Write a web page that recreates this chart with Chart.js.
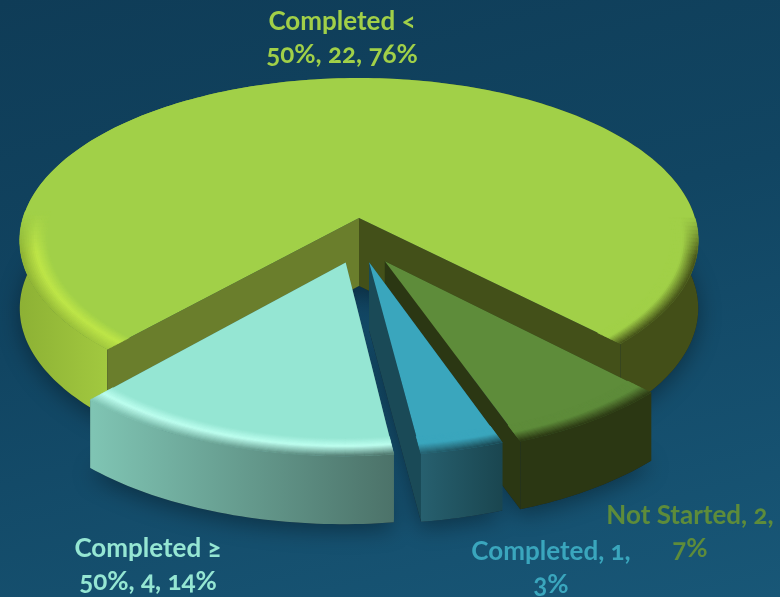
<!DOCTYPE html>
<html>
<head>
    <title>Task status</title>
    <script src="https://cdn.jsdelivr.net/npm/chart.js"></script>
    <style>
        html, body { margin: 0; padding: 0; width: 780px; height: 597px; overflow: hidden; }
        body { position: relative; background: linear-gradient(165deg, #0f3c57 0%, #114562 45%, #185777 100%); }
        #chartBox { position: absolute; left: 0; top: 0; width: 780px; height: 597px; }
        .etiqueta {
            position: absolute; text-align: center; font: bold 26px/33px Lato, sans-serif;
            font-variant-numeric: oldstyle-nums; white-space: normal;
        }
    </style>
</head>
<body>
    <div id="chartBox"><canvas id="pie"></canvas></div>

    <script>
        // data
        var categories = ['Completed < 50%', 'Not Started', 'Completed', 'Completed \u2265 50%'];
        var counts = [22, 2, 1, 4];
        var percents = ['76%', '7%', '3%', '14%'];
        var explode = [0, 80, 71, 73];

        var topColors = ['#a1d048', '#5e8c3a', '#3aa6bd', '#95e6d3'];
        var labelColors = ['#a1d048', '#5e8c3a', '#3aa6bd', '#95e6d3'];
        // wall colours along x: x, colour, x, colour...
        var wallColors = [
            [16, '#8cb034', 112, '#a3ca40', 600, '#434f18'],
            [515, '#2b3713', 650, '#2b3713'],
            [420, '#27606f', 502, '#1a4650'],
            [93, '#7fc4b3', 398, '#4b7168']
        ];
        var faceColors = [['#6a7e2c', '#435019'], ['#2b3713', '#2b3713'], ['#1a4a57', '#1a4a57'], ['#4b7168', '#4b7168']];
        // highlight on the bevel, left half and right half of the pie
        var rimHigh = ['#bfe648', '#a1d048', '#5e8c3a', '#5e8c3a', '#3aa6bd', '#3aa6bd', '#beffF0', '#beffF0'];
        // label boxes: left, top, width
        var labelBoxes = [[252, 4, 180], [602, 498, 176], [466, 534, 170], [63, 531, 170]];

        // perspective of the pie
        var cx = 359, cy = 218, R = 336, Rs = 159.3, k = 0.138, H = 68;
        var shrink = 0.97, offX = 0.45, rimWidth = 0.08;

        function project(u, v, h) {
            var w = 1 - k * v;
            return { x: cx + R * u / w, y: cy + Rs * v / w + H * h };
        }

        function hexRgb(c) {
            return [parseInt(c.substr(1, 2), 16), parseInt(c.substr(3, 2), 16), parseInt(c.substr(5, 2), 16)];
        }

        function mixRgb(a, b, t) {
            return [a[0] + (b[0] - a[0]) * t, a[1] + (b[1] - a[1]) * t, a[2] + (b[2] - a[2]) * t];
        }

        function cssRgb(c) {
            return 'rgb(' + Math.round(c[0]) + ',' + Math.round(c[1]) + ',' + Math.round(c[2]) + ')';
        }

        function wallAt(i, x) {
            var c = wallColors[i], j;
            if (x <= c[0]) return hexRgb(c[1]);
            for (j = 2; j < c.length; j += 2) {
                if (x <= c[j]) return mixRgb(hexRgb(c[j - 1]), hexRgb(c[j + 1]), (x - c[j - 2]) / (c[j] - c[j - 2]));
            }
            return hexRgb(c[c.length - 1]);
        }

        // geometry of one slice, taken from the arc element of Chart.js
        function sliceGeom(arc, offset) {
            var p = arc.getProps(['startAngle', 'endAngle', 'outerRadius']);
            var mid = (p.startAngle + p.endAngle) / 2;
            var o = offset / p.outerRadius;
            return {
                a0: p.startAngle,
                a1: p.endAngle,
                ox: o * Math.cos(mid) * offX,
                oy: o * Math.sin(mid),
                r: offset > 0 ? shrink : 1
            };
        }

        function rimPoint(g, a, rho, h) {
            return project(g.ox + Math.cos(a) * rho * g.r, g.oy + Math.sin(a) * rho * g.r, h);
        }

        function traceTop(ctx, g, h) {
            var n = Math.ceil((g.a1 - g.a0) / 0.02), i, p;
            p = project(g.ox, g.oy, h);
            ctx.beginPath();
            ctx.moveTo(p.x, p.y);
            for (i = 0; i <= n; i++) {
                p = rimPoint(g, g.a0 + (g.a1 - g.a0) * i / n, 1, h);
                ctx.lineTo(p.x, p.y);
            }
            ctx.closePath();
        }

        function drawWall(ctx, g, i) {
            var n = Math.ceil((g.a1 - g.a0) / 0.02), j, p, c = wallColors[i];
            var grad = ctx.createLinearGradient(c[0], 0, c[c.length - 2], 0);
            for (j = 0; j < c.length; j += 2) {
                grad.addColorStop((c[j] - c[0]) / (c[c.length - 2] - c[0]), c[j + 1]);
            }
            ctx.fillStyle = grad;
            ctx.beginPath();
            for (j = 0; j <= n; j++) {
                p = rimPoint(g, g.a0 + (g.a1 - g.a0) * j / n, 1, 0);
                ctx.lineTo(p.x, p.y);
            }
            for (j = n; j >= 0; j--) {
                p = rimPoint(g, g.a0 + (g.a1 - g.a0) * j / n, 1, 1);
                ctx.lineTo(p.x, p.y);
            }
            ctx.closePath();
            ctx.fill();
        }

        function drawFace(ctx, g, a, color) {
            var p0 = project(g.ox, g.oy, 0), p1 = rimPoint(g, a, 1, 0), p2 = rimPoint(g, a, 1, 1), p3 = project(g.ox, g.oy, 1);
            ctx.fillStyle = color;
            ctx.beginPath();
            ctx.moveTo(p0.x, p0.y);
            ctx.lineTo(p1.x, p1.y);
            ctx.lineTo(p2.x, p2.y);
            ctx.lineTo(p3.x, p3.y);
            ctx.closePath();
            ctx.fill();
        }

        // bevel along the outer edge: top colour -> highlight -> wall colour
        function drawRim(ctx, g, i) {
            var steps = 16, top = hexRgb(topColors[i]), s, a, da = 0.025;
            ctx.lineWidth = 0.6;
            for (s = 0; s < steps; s++) {
                var t = (s + 0.5) / steps;
                var rho0 = 1 - rimWidth + rimWidth * s / steps, rho1 = 1 - rimWidth + rimWidth * (s + 1) / steps;
                for (a = g.a0; a < g.a1; a += da) {
                    var strength = Math.min(1, Math.max(0, (Math.sin(a) + 0.02) / 0.25));
                    if (strength <= 0) continue;
                    var a2 = Math.min(a + da, g.a1);
                    var q0 = rimPoint(g, a, rho0, 0), q1 = rimPoint(g, a2, rho0, 0), q2 = rimPoint(g, a2, rho1, 0), q3 = rimPoint(g, a, rho1, 0);
                    var high = hexRgb(rimHigh[i * 2 + (Math.cos(a) < 0 ? 0 : 1)]);
                    var col = t < 0.45 ? mixRgb(top, high, t / 0.45) : mixRgb(high, wallAt(i, q3.x), (t - 0.45) / 0.55);
                    col = cssRgb(mixRgb(top, col, strength));
                    ctx.fillStyle = col;
                    ctx.strokeStyle = col;
                    ctx.beginPath();
                    ctx.moveTo(q0.x, q0.y);
                    ctx.lineTo(q1.x, q1.y);
                    ctx.lineTo(q2.x, q2.y);
                    ctx.lineTo(q3.x, q3.y);
                    ctx.closePath();
                    ctx.fill();
                    ctx.stroke();
                }
            }
        }

        // draws the arcs of the pie as an exploded 3D pie, back to front
        var pie3d = {
            id: 'pie3d',
            beforeDatasetDraw: function (chart) {
                var ctx = chart.ctx, arcs = chart.getDatasetMeta(0).data;
                var order = [0, 1, 2, 3];
                ctx.save();
                order.forEach(function (i) {
                    var g = sliceGeom(arcs[i], explode[i]);
                    ctx.save();
                    ctx.shadowColor = 'rgba(0,0,0,0.35)';
                    ctx.shadowBlur = 22;
                    ctx.shadowOffsetY = 6;
                    ctx.fillStyle = '#123';
                    traceTop(ctx, g, 1);
                    ctx.fill();
                    ctx.restore();
                });
                order.forEach(function (i) {
                    var g = sliceGeom(arcs[i], explode[i]);
                    // the big slice has a notch, so its faces go over its wall
                    if (i > 0) {
                        drawFace(ctx, g, g.a0, faceColors[i][0]);
                        drawFace(ctx, g, g.a1, faceColors[i][1]);
                    }
                    drawWall(ctx, g, i);
                    if (i === 0) {
                        drawFace(ctx, g, g.a0, faceColors[i][0]);
                        drawFace(ctx, g, g.a1, faceColors[i][1]);
                    }
                    ctx.fillStyle = topColors[i];
                    traceTop(ctx, g, 0);
                    ctx.fill();
                    drawRim(ctx, g, i);
                });
                ctx.restore();
                return false;
            }
        };

        new Chart(document.getElementById('pie').getContext('2d'), {
            type: 'pie',
            data: {
                labels: categories,
                datasets: [{
                    data: counts,
                    backgroundColor: topColors,
                    offset: explode,
                    borderWidth: 0
                }]
            },
            options: {
                responsive: true,
                maintainAspectRatio: false,
                animation: false,
                rotation: 222.3,
                plugins: { legend: { display: false }, tooltip: { enabled: false } }
            },
            plugins: [pie3d]
        });

        categories.forEach(function (name, i) {
            var d = document.createElement('div');
            d.className = 'etiqueta';
            d.textContent = name + ', ' + counts[i] + ', ' + percents[i];
            d.style.color = labelColors[i];
            d.style.left = labelBoxes[i][0] + 'px';
            d.style.top = labelBoxes[i][1] + 'px';
            d.style.width = labelBoxes[i][2] + 'px';
            document.body.appendChild(d);
        });
    </script>
</body>
</html>
